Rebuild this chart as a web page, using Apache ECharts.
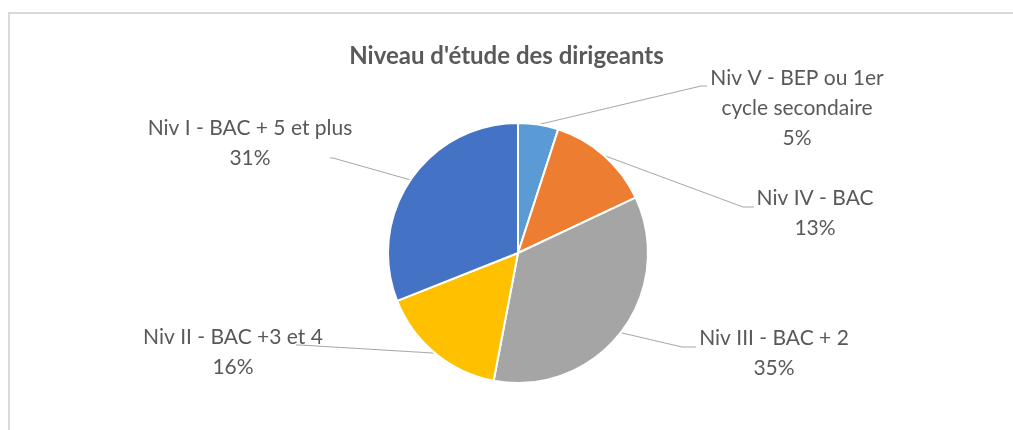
<!DOCTYPE html>
<html>
<head>
<meta charset="utf-8">
<script src="https://cdn.jsdelivr.net/npm/echarts@6/dist/echarts.min.js"></script>
<style>html,body{margin:0;padding:0;background:#fff;}#c{width:1013px;height:430px;}</style>
</head>
<body>
<div id="c"></div>
<script>
const title = "Niveau d'étude des dirigeants";
const categories = [
  "Niv V - BEP ou 1er\ncycle secondaire",
  "Niv IV - BAC",
  "Niv III - BAC + 2",
  "Niv II - BAC +3 et 4",
  "Niv I - BAC + 5 et plus"
];
const values = [5, 13, 35, 16, 31];
const colors = ["#5B9BD5", "#ED7D31", "#A5A5A5", "#FFC000", "#4472C4"];

// label layout (block centre, leader-line bend and end)
const labelLayoutCfg = [
  { x: 797, y: 108, bend: [701, 86], end: [707, 86] },
  { x: 815, y: 213, bend: [743, 207], end: [754, 207] },
  { x: 774, y: 353, bend: [682, 347], end: [696, 347] },
  { x: 233, y: 352, bend: [300, 345], end: [296, 345] },
  { x: 250, y: 143, bend: [333, 158], end: [330, 158] }
];

const chart = echarts.init(document.getElementById('c'), null, { renderer: 'canvas' });
const FONT = 'Lato';
chart.setOption({
  backgroundColor: '#fff',
  animation: false,
  graphic: [{
    type: 'rect', silent: true,
    shape: { x: 9, y: 13, width: 1200, height: 600 },
    style: { fill: 'none', stroke: '#d9d9d9', lineWidth: 2 }
  }],
  title: {
    text: title, left: 'center', top: 39,
    textStyle: { fontFamily: FONT, fontWeight: 'bold', fontSize: 24, color: '#595959' }
  },
  series: [{
    type: 'pie',
    center: [518, 253],
    radius: 130,
    startAngle: 90,
    clockwise: true,
    avoidLabelOverlap: false,
    itemStyle: { borderColor: '#fff', borderWidth: 2 },
    data: categories.map((n, i) => ({ name: n, value: values[i], itemStyle: { color: colors[i] } })),
    label: {
      show: true,
      position: 'outside',
      formatter: p => p.name + '\n' + Math.round(p.percent) + '%',
      fontFamily: FONT, fontSize: 21, lineHeight: 30, color: '#595959', align: 'center'
    },
    labelLine: { show: true, length: 20, length2: 10, lineStyle: { color: '#a6a6a6', width: 1 } },
    emphasis: { disabled: true },
    labelLayout: function (params) {
      const cfg = labelLayoutCfg[params.dataIndex];
      const pts = params.labelLinePoints;
      const start = pts ? pts[0] : cfg.bend;
      return {
        x: cfg.x, y: cfg.y, align: 'center', verticalAlign: 'middle', hideOverlap: false,
        labelLinePoints: [start, cfg.bend, cfg.end]
      };
    }
  }]
});
</script>
</body>
</html>
